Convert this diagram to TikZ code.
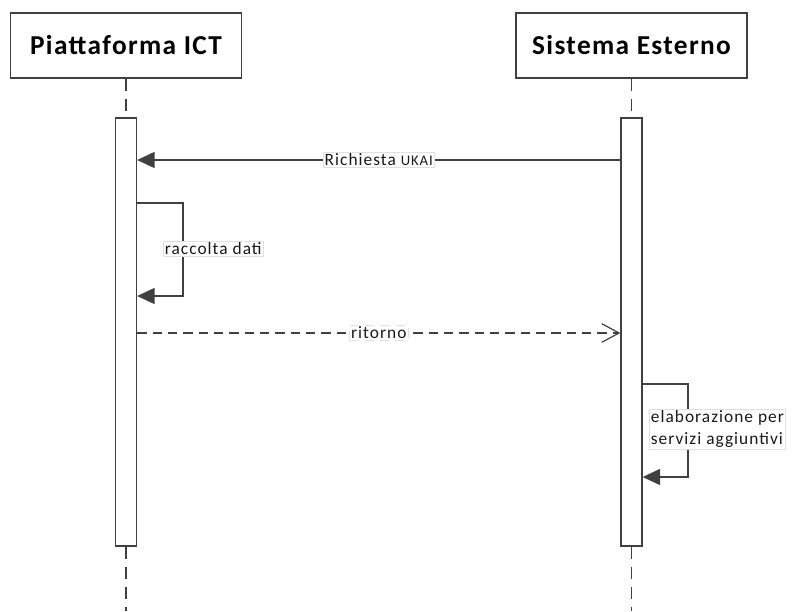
\documentclass[tikz,border=0pt]{standalone}
\usepackage{fontspec}
\setmainfont{Carlito}
\newfontfamily\hdrfont[LetterSpace=5]{Carlito}
\newfontfamily\lblfont[LetterSpace=6]{Carlito}
\usetikzlibrary{arrows.meta,calc}
\definecolor{linec}{HTML}{404040}
\begin{document}
\begin{tikzpicture}[x=0.75pt,y=-0.75pt,
  header/.style={draw=linec,line width=1.1pt,fill=white,minimum width=231*0.75pt,minimum height=65*0.75pt,inner sep=0pt,font=\hdrfont\bfseries\fontsize{20.5}{23}\selectfont},
  actbox/.style={draw=linec,line width=1pt,fill=white,minimum width=21*0.75pt,minimum height=428*0.75pt,inner sep=0pt},
  life/.style={draw=linec,line width=1pt,dash pattern=on 9pt off 6pt},
  msg/.style={draw=linec,line width=1pt,-{Triangle[length=13pt,width=12pt]}},
  retmsg/.style={draw=linec,line width=0.9pt,dash pattern=on 7pt off 4.5pt,-{Straight Barb[length=13pt,width=14pt,line width=0.9pt]}},
  lbl/.style={fill=white,draw=black!12,line width=0.4pt,inner sep=1.2pt,font=\lblfont\fontsize{13}{16.5}\selectfont,text=black!90},
]
\useasboundingbox (0,0) rectangle (792,611);
\node[header] (hA) at (126,45.5) {Piattaforma ICT};
\node[header] (hB) at (631.5,45.5) {Sistema Esterno};
\node[actbox] (aA) at (126,332) {};
\node[actbox] (aB) at (631.5,332) {};
\coordinate (endA) at (126,611);
\coordinate (endB) at (631.5,611);
\draw[life] (hA.south) -- (aA.north);
\draw[life] (hB.south) -- (aB.north);
\draw[life] (aA.south) -- (endA);
\draw[life] (aB.south) -- (endB);
% y levels
\coordinate (y1) at (0,160);
\coordinate (y2a) at (0,203);
\coordinate (y2b) at (0,296);
\coordinate (y3) at (0,333);
\coordinate (y4a) at (0,384);
\coordinate (y4b) at (0,477);
\coordinate (xs1) at (183,0);
\coordinate (xs2) at (688,0);
% message 1
\draw[msg] (aB.west |- y1) -- node[lbl] {Richiesta {\fontsize{11}{13}\selectfont UKAI}} (aA.east |- y1);
% self message 1
\draw[msg] (aA.east |- y2a) -- (xs1 |- y2a) -- (xs1 |- y2b) -- (aA.east |- y2b);
\node[lbl,anchor=west] (l2) at (163,249) {raccolta dati};
% return
\draw[retmsg] (aA.east |- y3) -- node[lbl] {ritorno} (aB.west |- y3);
% self message 2
\draw[msg] (aB.east |- y4a) -- (xs2 |- y4a) -- (xs2 |- y4b) -- (aB.east |- y4b);
\node[lbl,anchor=west,align=left] (l4) at (649,429) {elaborazione per\\servizi aggiuntivi};
\end{tikzpicture}
\end{document}
